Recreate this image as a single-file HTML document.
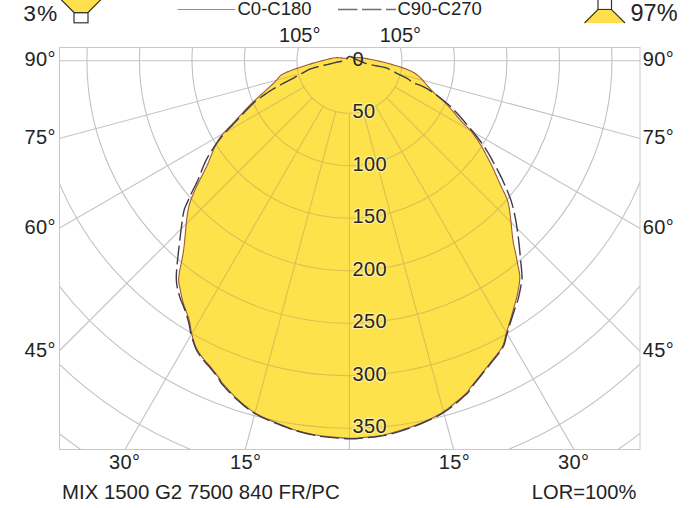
<!DOCTYPE html>
<html><head><meta charset="utf-8"><style>
html,body{margin:0;padding:0;background:#fff;}
svg{display:block;}
text{font-family:"Liberation Sans",Arial,sans-serif;fill:#232323;}
.rl{letter-spacing:0.4px;fill:#2a2614;stroke:#fbeea0;stroke-width:2.5px;paint-order:stroke;stroke-linejoin:round;}
</style></head><body>
<svg width="700" height="508" viewBox="0 0 700 508">
<defs>
<clipPath id="fr"><rect x="59.5" y="47.5" width="580.5" height="402.0"/></clipPath>
<clipPath id="fillc"><path d="M349.30,56.60 L350.10,56.62 L350.96,56.76 L351.88,56.97 L352.86,57.21 L353.90,57.44 L355.00,57.60 L356.08,57.67 L357.13,57.67 L358.24,57.65 L359.50,57.67 L361.03,57.77 L362.90,58.00 L365.22,58.38 L367.92,58.87 L370.88,59.44 L373.96,60.07 L377.04,60.73 L380.00,61.40 L382.89,62.09 L385.82,62.83 L388.76,63.59 L391.64,64.39 L394.44,65.19 L397.10,66.00 L399.65,66.81 L402.12,67.62 L404.50,68.44 L406.77,69.29 L408.91,70.17 L410.90,71.10 L412.65,71.99 L414.16,72.84 L415.54,73.71 L416.90,74.71 L418.35,75.91 L420.00,77.40 L421.83,79.25 L423.75,81.40 L425.76,83.76 L427.85,86.22 L430.03,88.70 L432.30,91.10 L434.70,93.41 L437.25,95.71 L439.89,98.02 L442.55,100.38 L445.17,102.79 L447.70,105.30 L450.19,108.01 L452.69,110.91 L455.16,113.89 L457.54,116.79 L459.77,119.47 L461.80,121.80 L463.57,123.67 L465.12,125.17 L466.53,126.46 L467.86,127.69 L469.19,129.01 L470.60,130.60 L472.10,132.46 L473.63,134.47 L475.16,136.58 L476.67,138.73 L478.13,140.89 L479.50,143.00 L480.78,145.05 L481.97,147.07 L483.11,149.09 L484.23,151.13 L485.35,153.23 L486.50,155.40 L487.68,157.64 L488.86,159.94 L490.04,162.28 L491.23,164.67 L492.42,167.11 L493.60,169.60 L494.78,172.15 L495.97,174.77 L497.15,177.44 L498.33,180.14 L499.52,182.83 L500.70,185.50 L501.93,188.13 L503.22,190.72 L504.51,193.32 L505.74,195.94 L506.86,198.63 L507.80,201.40 L508.53,204.25 L509.10,207.15 L509.56,210.11 L509.94,213.13 L510.31,216.23 L510.70,219.40 L511.10,222.76 L511.46,226.33 L511.81,229.96 L512.15,233.54 L512.51,236.93 L512.90,240.00 L513.34,242.73 L513.81,245.21 L514.31,247.50 L514.80,249.66 L515.27,251.74 L515.70,253.80 L516.09,255.78 L516.46,257.62 L516.80,259.39 L517.13,261.13 L517.46,262.92 L517.80,264.80 L518.19,266.75 L518.62,268.73 L519.06,270.74 L519.43,272.81 L519.70,274.96 L519.80,277.20 L519.72,279.59 L519.49,282.11 L519.14,284.71 L518.73,287.33 L518.27,289.92 L517.80,292.40 L517.31,294.76 L516.78,297.05 L516.20,299.30 L515.59,301.55 L514.95,303.84 L514.30,306.20 L513.61,308.68 L512.88,311.25 L512.12,313.86 L511.36,316.46 L510.61,318.99 L509.90,321.40 L509.22,323.67 L508.56,325.84 L507.91,327.95 L507.27,330.02 L506.64,332.09 L506.00,334.20 L505.45,336.30 L505.01,338.37 L504.57,340.44 L504.03,342.55 L503.28,344.72 L502.20,347.00 L500.71,349.44 L498.89,352.01 L496.85,354.66 L494.72,357.30 L492.63,359.87 L490.70,362.30 L488.93,364.56 L487.21,366.72 L485.52,368.80 L483.86,370.85 L482.19,372.90 L480.50,375.00 L478.72,377.22 L476.87,379.54 L475.01,381.86 L473.22,384.10 L471.59,386.14 L470.20,387.90 L469.29,389.18 L468.84,390.02 L468.55,390.67 L468.10,391.39 L467.19,392.41 L465.50,394.00 L462.91,396.30 L459.64,399.14 L455.91,402.29 L451.92,405.52 L447.88,408.60 L444.00,411.30 L440.33,413.61 L436.71,415.71 L433.05,417.66 L429.23,419.51 L425.15,421.34 L420.70,423.20 L415.71,425.15 L410.22,427.15 L404.47,429.12 L398.69,430.97 L393.12,432.63 L388.00,434.00 L383.23,435.05 L378.61,435.84 L374.19,436.43 L370.05,436.87 L366.23,437.25 L362.80,437.60 L359.92,437.92 L357.57,438.15 L355.56,438.31 L353.66,438.39 L351.68,438.42 L349.40,438.40 L346.82,438.31 L344.09,438.14 L341.27,437.91 L338.43,437.65 L335.62,437.37 L332.90,437.10 L330.29,436.85 L327.76,436.61 L325.26,436.36 L322.75,436.07 L320.18,435.73 L317.50,435.30 L314.65,434.78 L311.65,434.17 L308.59,433.51 L305.57,432.81 L302.67,432.10 L300.00,431.40 L297.78,430.80 L295.97,430.31 L294.30,429.80 L292.46,429.17 L290.16,428.31 L287.10,427.10 L283.02,425.49 L278.10,423.54 L272.73,421.37 L267.26,419.06 L262.10,416.70 L257.60,414.40 L253.80,412.14 L250.39,409.84 L247.27,407.51 L244.35,405.12 L241.52,402.69 L238.70,400.20 L235.80,397.53 L232.90,394.64 L230.09,391.71 L227.48,388.88 L225.18,386.33 L223.30,384.20 L221.99,382.64 L221.19,381.54 L220.71,380.72 L220.32,379.97 L219.82,379.09 L219.00,377.90 L217.83,376.34 L216.49,374.57 L215.03,372.67 L213.53,370.74 L212.06,368.89 L210.70,367.20 L209.45,365.72 L208.24,364.37 L207.07,363.10 L205.92,361.83 L204.77,360.48 L203.60,359.00 L202.39,357.40 L201.14,355.74 L199.90,354.02 L198.69,352.21 L197.54,350.31 L196.50,348.30 L195.55,346.12 L194.66,343.78 L193.84,341.34 L193.09,338.89 L192.41,336.48 L191.80,334.20 L191.30,332.03 L190.91,329.91 L190.60,327.84 L190.31,325.83 L189.99,323.88 L189.60,322.00 L189.14,320.19 L188.64,318.47 L188.12,316.80 L187.58,315.18 L187.04,313.58 L186.50,312.00 L185.96,310.49 L185.40,309.07 L184.84,307.69 L184.28,306.26 L183.73,304.72 L183.20,303.00 L182.68,301.06 L182.15,298.96 L181.64,296.75 L181.15,294.48 L180.70,292.21 L180.30,290.00 L179.90,287.99 L179.46,286.18 L179.07,284.36 L178.78,282.36 L178.67,279.97 L178.80,277.00 L179.25,273.39 L179.99,269.26 L180.91,264.76 L181.89,259.99 L182.82,255.10 L183.60,250.20 L184.23,245.04 L184.79,239.46 L185.31,233.76 L185.80,228.20 L186.29,223.09 L186.80,218.70 L187.29,215.17 L187.72,212.30 L188.16,209.87 L188.63,207.66 L189.20,205.44 L189.90,203.00 L190.71,200.44 L191.59,197.97 L192.56,195.49 L193.63,192.93 L194.84,190.19 L196.20,187.20 L197.76,183.93 L199.51,180.44 L201.40,176.79 L203.35,173.00 L205.31,169.12 L207.20,165.20 L208.99,161.10 L210.71,156.77 L212.44,152.35 L214.23,147.99 L216.17,143.82 L218.30,140.00 L220.67,136.59 L223.23,133.48 L225.93,130.57 L228.71,127.76 L231.52,124.93 L234.30,122.00 L237.11,118.91 L240.00,115.73 L242.91,112.54 L245.80,109.42 L248.62,106.45 L251.30,103.70 L253.88,101.18 L256.42,98.82 L258.88,96.61 L261.23,94.53 L263.44,92.56 L265.50,90.70 L267.38,88.96 L269.12,87.37 L270.72,85.89 L272.20,84.51 L273.59,83.18 L274.90,81.90 L276.06,80.66 L277.04,79.48 L277.92,78.36 L278.79,77.31 L279.72,76.32 L280.80,75.40 L282.00,74.57 L283.26,73.83 L284.58,73.15 L285.99,72.51 L287.49,71.87 L289.10,71.20 L290.90,70.50 L292.87,69.79 L294.95,69.08 L297.04,68.38 L299.05,67.72 L300.90,67.10 L302.56,66.54 L304.10,66.01 L305.56,65.52 L307.00,65.05 L308.46,64.58 L310.00,64.10 L311.55,63.62 L313.07,63.15 L314.61,62.68 L316.23,62.21 L318.01,61.72 L320.00,61.20 L322.31,60.60 L324.92,59.93 L327.68,59.23 L330.44,58.59 L333.07,58.05 L335.40,57.70 L337.49,57.59 L339.46,57.68 L341.29,57.89 L342.95,58.12 L344.43,58.29 L345.70,58.30 L346.66,58.12 L347.32,57.80 L347.79,57.42 L348.19,57.05 L348.66,56.75 Z"/></clipPath>
</defs>
<rect width="700" height="508" fill="#fff"/>
<g clip-path="url(#fr)">
<g fill="none" stroke="#c2c2c2" stroke-width="1.1"><circle cx="349.45" cy="60.7" r="52.5"/><circle cx="349.45" cy="60.7" r="105.0"/><circle cx="349.45" cy="60.7" r="157.5"/><circle cx="349.45" cy="60.7" r="210.0"/><circle cx="349.45" cy="60.7" r="262.5"/><circle cx="349.45" cy="60.7" r="315.0"/><circle cx="349.45" cy="60.7" r="367.5"/><circle cx="349.45" cy="60.7" r="420.0"/><circle cx="349.45" cy="60.7" r="472.5"/><line x1="349.45" y1="8.20" x2="349.45" y2="-639.30"/><line x1="335.86" y1="9.99" x2="168.28" y2="-615.45"/><line x1="323.20" y1="15.23" x2="-0.55" y2="-545.52"/><line x1="312.33" y1="23.58" x2="-145.52" y2="-434.27"/><line x1="303.98" y1="34.45" x2="-256.77" y2="-289.30"/><line x1="298.74" y1="47.11" x2="-326.70" y2="-120.47"/><line x1="296.95" y1="60.70" x2="-350.55" y2="60.70"/><line x1="298.74" y1="74.29" x2="-326.70" y2="241.87"/><line x1="303.98" y1="86.95" x2="-256.77" y2="410.70"/><line x1="312.33" y1="97.82" x2="-145.52" y2="555.67"/><line x1="323.20" y1="106.17" x2="-0.55" y2="666.92"/><line x1="335.86" y1="111.41" x2="168.28" y2="736.85"/><line x1="349.45" y1="113.20" x2="349.45" y2="760.70"/><line x1="363.04" y1="111.41" x2="530.62" y2="736.85"/><line x1="375.70" y1="106.17" x2="699.45" y2="666.92"/><line x1="386.57" y1="97.82" x2="844.42" y2="555.67"/><line x1="394.92" y1="86.95" x2="955.67" y2="410.70"/><line x1="400.16" y1="74.29" x2="1025.60" y2="241.87"/><line x1="401.95" y1="60.70" x2="1049.45" y2="60.70"/><line x1="400.16" y1="47.11" x2="1025.60" y2="-120.47"/><line x1="394.92" y1="34.45" x2="955.67" y2="-289.30"/><line x1="386.57" y1="23.58" x2="844.42" y2="-434.27"/><line x1="375.70" y1="15.23" x2="699.45" y2="-545.52"/><line x1="363.04" y1="9.99" x2="530.62" y2="-615.45"/><line x1="349.45" y1="8.20" x2="349.45" y2="-639.30"/></g>
<path d="M349.30,56.60 L350.10,56.62 L350.96,56.76 L351.88,56.97 L352.86,57.21 L353.90,57.44 L355.00,57.60 L356.08,57.67 L357.13,57.67 L358.24,57.65 L359.50,57.67 L361.03,57.77 L362.90,58.00 L365.22,58.38 L367.92,58.87 L370.88,59.44 L373.96,60.07 L377.04,60.73 L380.00,61.40 L382.89,62.09 L385.82,62.83 L388.76,63.59 L391.64,64.39 L394.44,65.19 L397.10,66.00 L399.65,66.81 L402.12,67.62 L404.50,68.44 L406.77,69.29 L408.91,70.17 L410.90,71.10 L412.65,71.99 L414.16,72.84 L415.54,73.71 L416.90,74.71 L418.35,75.91 L420.00,77.40 L421.83,79.25 L423.75,81.40 L425.76,83.76 L427.85,86.22 L430.03,88.70 L432.30,91.10 L434.70,93.41 L437.25,95.71 L439.89,98.02 L442.55,100.38 L445.17,102.79 L447.70,105.30 L450.19,108.01 L452.69,110.91 L455.16,113.89 L457.54,116.79 L459.77,119.47 L461.80,121.80 L463.57,123.67 L465.12,125.17 L466.53,126.46 L467.86,127.69 L469.19,129.01 L470.60,130.60 L472.10,132.46 L473.63,134.47 L475.16,136.58 L476.67,138.73 L478.13,140.89 L479.50,143.00 L480.78,145.05 L481.97,147.07 L483.11,149.09 L484.23,151.13 L485.35,153.23 L486.50,155.40 L487.68,157.64 L488.86,159.94 L490.04,162.28 L491.23,164.67 L492.42,167.11 L493.60,169.60 L494.78,172.15 L495.97,174.77 L497.15,177.44 L498.33,180.14 L499.52,182.83 L500.70,185.50 L501.93,188.13 L503.22,190.72 L504.51,193.32 L505.74,195.94 L506.86,198.63 L507.80,201.40 L508.53,204.25 L509.10,207.15 L509.56,210.11 L509.94,213.13 L510.31,216.23 L510.70,219.40 L511.10,222.76 L511.46,226.33 L511.81,229.96 L512.15,233.54 L512.51,236.93 L512.90,240.00 L513.34,242.73 L513.81,245.21 L514.31,247.50 L514.80,249.66 L515.27,251.74 L515.70,253.80 L516.09,255.78 L516.46,257.62 L516.80,259.39 L517.13,261.13 L517.46,262.92 L517.80,264.80 L518.19,266.75 L518.62,268.73 L519.06,270.74 L519.43,272.81 L519.70,274.96 L519.80,277.20 L519.72,279.59 L519.49,282.11 L519.14,284.71 L518.73,287.33 L518.27,289.92 L517.80,292.40 L517.31,294.76 L516.78,297.05 L516.20,299.30 L515.59,301.55 L514.95,303.84 L514.30,306.20 L513.61,308.68 L512.88,311.25 L512.12,313.86 L511.36,316.46 L510.61,318.99 L509.90,321.40 L509.22,323.67 L508.56,325.84 L507.91,327.95 L507.27,330.02 L506.64,332.09 L506.00,334.20 L505.45,336.30 L505.01,338.37 L504.57,340.44 L504.03,342.55 L503.28,344.72 L502.20,347.00 L500.71,349.44 L498.89,352.01 L496.85,354.66 L494.72,357.30 L492.63,359.87 L490.70,362.30 L488.93,364.56 L487.21,366.72 L485.52,368.80 L483.86,370.85 L482.19,372.90 L480.50,375.00 L478.72,377.22 L476.87,379.54 L475.01,381.86 L473.22,384.10 L471.59,386.14 L470.20,387.90 L469.29,389.18 L468.84,390.02 L468.55,390.67 L468.10,391.39 L467.19,392.41 L465.50,394.00 L462.91,396.30 L459.64,399.14 L455.91,402.29 L451.92,405.52 L447.88,408.60 L444.00,411.30 L440.33,413.61 L436.71,415.71 L433.05,417.66 L429.23,419.51 L425.15,421.34 L420.70,423.20 L415.71,425.15 L410.22,427.15 L404.47,429.12 L398.69,430.97 L393.12,432.63 L388.00,434.00 L383.23,435.05 L378.61,435.84 L374.19,436.43 L370.05,436.87 L366.23,437.25 L362.80,437.60 L359.92,437.92 L357.57,438.15 L355.56,438.31 L353.66,438.39 L351.68,438.42 L349.40,438.40 L346.82,438.31 L344.09,438.14 L341.27,437.91 L338.43,437.65 L335.62,437.37 L332.90,437.10 L330.29,436.85 L327.76,436.61 L325.26,436.36 L322.75,436.07 L320.18,435.73 L317.50,435.30 L314.65,434.78 L311.65,434.17 L308.59,433.51 L305.57,432.81 L302.67,432.10 L300.00,431.40 L297.78,430.80 L295.97,430.31 L294.30,429.80 L292.46,429.17 L290.16,428.31 L287.10,427.10 L283.02,425.49 L278.10,423.54 L272.73,421.37 L267.26,419.06 L262.10,416.70 L257.60,414.40 L253.80,412.14 L250.39,409.84 L247.27,407.51 L244.35,405.12 L241.52,402.69 L238.70,400.20 L235.80,397.53 L232.90,394.64 L230.09,391.71 L227.48,388.88 L225.18,386.33 L223.30,384.20 L221.99,382.64 L221.19,381.54 L220.71,380.72 L220.32,379.97 L219.82,379.09 L219.00,377.90 L217.83,376.34 L216.49,374.57 L215.03,372.67 L213.53,370.74 L212.06,368.89 L210.70,367.20 L209.45,365.72 L208.24,364.37 L207.07,363.10 L205.92,361.83 L204.77,360.48 L203.60,359.00 L202.39,357.40 L201.14,355.74 L199.90,354.02 L198.69,352.21 L197.54,350.31 L196.50,348.30 L195.55,346.12 L194.66,343.78 L193.84,341.34 L193.09,338.89 L192.41,336.48 L191.80,334.20 L191.30,332.03 L190.91,329.91 L190.60,327.84 L190.31,325.83 L189.99,323.88 L189.60,322.00 L189.14,320.19 L188.64,318.47 L188.12,316.80 L187.58,315.18 L187.04,313.58 L186.50,312.00 L185.96,310.49 L185.40,309.07 L184.84,307.69 L184.28,306.26 L183.73,304.72 L183.20,303.00 L182.68,301.06 L182.15,298.96 L181.64,296.75 L181.15,294.48 L180.70,292.21 L180.30,290.00 L179.90,287.99 L179.46,286.18 L179.07,284.36 L178.78,282.36 L178.67,279.97 L178.80,277.00 L179.25,273.39 L179.99,269.26 L180.91,264.76 L181.89,259.99 L182.82,255.10 L183.60,250.20 L184.23,245.04 L184.79,239.46 L185.31,233.76 L185.80,228.20 L186.29,223.09 L186.80,218.70 L187.29,215.17 L187.72,212.30 L188.16,209.87 L188.63,207.66 L189.20,205.44 L189.90,203.00 L190.71,200.44 L191.59,197.97 L192.56,195.49 L193.63,192.93 L194.84,190.19 L196.20,187.20 L197.76,183.93 L199.51,180.44 L201.40,176.79 L203.35,173.00 L205.31,169.12 L207.20,165.20 L208.99,161.10 L210.71,156.77 L212.44,152.35 L214.23,147.99 L216.17,143.82 L218.30,140.00 L220.67,136.59 L223.23,133.48 L225.93,130.57 L228.71,127.76 L231.52,124.93 L234.30,122.00 L237.11,118.91 L240.00,115.73 L242.91,112.54 L245.80,109.42 L248.62,106.45 L251.30,103.70 L253.88,101.18 L256.42,98.82 L258.88,96.61 L261.23,94.53 L263.44,92.56 L265.50,90.70 L267.38,88.96 L269.12,87.37 L270.72,85.89 L272.20,84.51 L273.59,83.18 L274.90,81.90 L276.06,80.66 L277.04,79.48 L277.92,78.36 L278.79,77.31 L279.72,76.32 L280.80,75.40 L282.00,74.57 L283.26,73.83 L284.58,73.15 L285.99,72.51 L287.49,71.87 L289.10,71.20 L290.90,70.50 L292.87,69.79 L294.95,69.08 L297.04,68.38 L299.05,67.72 L300.90,67.10 L302.56,66.54 L304.10,66.01 L305.56,65.52 L307.00,65.05 L308.46,64.58 L310.00,64.10 L311.55,63.62 L313.07,63.15 L314.61,62.68 L316.23,62.21 L318.01,61.72 L320.00,61.20 L322.31,60.60 L324.92,59.93 L327.68,59.23 L330.44,58.59 L333.07,58.05 L335.40,57.70 L337.49,57.59 L339.46,57.68 L341.29,57.89 L342.95,58.12 L344.43,58.29 L345.70,58.30 L346.66,58.12 L347.32,57.80 L347.79,57.42 L348.19,57.05 L348.66,56.75 Z" fill="#fee24c"/>
<g clip-path="url(#fillc)"><g fill="none" stroke="#d9c052" stroke-width="1.1"><circle cx="349.45" cy="60.7" r="52.5"/><circle cx="349.45" cy="60.7" r="105.0"/><circle cx="349.45" cy="60.7" r="157.5"/><circle cx="349.45" cy="60.7" r="210.0"/><circle cx="349.45" cy="60.7" r="262.5"/><circle cx="349.45" cy="60.7" r="315.0"/><circle cx="349.45" cy="60.7" r="367.5"/><circle cx="349.45" cy="60.7" r="420.0"/><circle cx="349.45" cy="60.7" r="472.5"/><line x1="349.45" y1="8.20" x2="349.45" y2="-639.30"/><line x1="335.86" y1="9.99" x2="168.28" y2="-615.45"/><line x1="323.20" y1="15.23" x2="-0.55" y2="-545.52"/><line x1="312.33" y1="23.58" x2="-145.52" y2="-434.27"/><line x1="303.98" y1="34.45" x2="-256.77" y2="-289.30"/><line x1="298.74" y1="47.11" x2="-326.70" y2="-120.47"/><line x1="296.95" y1="60.70" x2="-350.55" y2="60.70"/><line x1="298.74" y1="74.29" x2="-326.70" y2="241.87"/><line x1="303.98" y1="86.95" x2="-256.77" y2="410.70"/><line x1="312.33" y1="97.82" x2="-145.52" y2="555.67"/><line x1="323.20" y1="106.17" x2="-0.55" y2="666.92"/><line x1="335.86" y1="111.41" x2="168.28" y2="736.85"/><line x1="349.45" y1="113.20" x2="349.45" y2="760.70"/><line x1="363.04" y1="111.41" x2="530.62" y2="736.85"/><line x1="375.70" y1="106.17" x2="699.45" y2="666.92"/><line x1="386.57" y1="97.82" x2="844.42" y2="555.67"/><line x1="394.92" y1="86.95" x2="955.67" y2="410.70"/><line x1="400.16" y1="74.29" x2="1025.60" y2="241.87"/><line x1="401.95" y1="60.70" x2="1049.45" y2="60.70"/><line x1="400.16" y1="47.11" x2="1025.60" y2="-120.47"/><line x1="394.92" y1="34.45" x2="955.67" y2="-289.30"/><line x1="386.57" y1="23.58" x2="844.42" y2="-434.27"/><line x1="375.70" y1="15.23" x2="699.45" y2="-545.52"/><line x1="363.04" y1="9.99" x2="530.62" y2="-615.45"/><line x1="349.45" y1="8.20" x2="349.45" y2="-639.30"/></g></g>
<path d="M349.30,56.60 L350.10,56.62 L350.96,56.76 L351.88,56.97 L352.86,57.21 L353.90,57.44 L355.00,57.60 L356.08,57.67 L357.13,57.67 L358.24,57.65 L359.50,57.67 L361.03,57.77 L362.90,58.00 L365.22,58.38 L367.92,58.87 L370.88,59.44 L373.96,60.07 L377.04,60.73 L380.00,61.40 L382.89,62.09 L385.82,62.83 L388.76,63.59 L391.64,64.39 L394.44,65.19 L397.10,66.00 L399.65,66.81 L402.12,67.62 L404.50,68.44 L406.77,69.29 L408.91,70.17 L410.90,71.10 L412.65,71.99 L414.16,72.84 L415.54,73.71 L416.90,74.71 L418.35,75.91 L420.00,77.40 L421.83,79.25 L423.75,81.40 L425.76,83.76 L427.85,86.22 L430.03,88.70 L432.30,91.10 L434.70,93.41 L437.25,95.71 L439.89,98.02 L442.55,100.38 L445.17,102.79 L447.70,105.30 L450.19,108.01 L452.69,110.91 L455.16,113.89 L457.54,116.79 L459.77,119.47 L461.80,121.80 L463.57,123.67 L465.12,125.17 L466.53,126.46 L467.86,127.69 L469.19,129.01 L470.60,130.60 L472.10,132.46 L473.63,134.47 L475.16,136.58 L476.67,138.73 L478.13,140.89 L479.50,143.00 L480.78,145.05 L481.97,147.07 L483.11,149.09 L484.23,151.13 L485.35,153.23 L486.50,155.40 L487.68,157.64 L488.86,159.94 L490.04,162.28 L491.23,164.67 L492.42,167.11 L493.60,169.60 L494.78,172.15 L495.97,174.77 L497.15,177.44 L498.33,180.14 L499.52,182.83 L500.70,185.50 L501.93,188.13 L503.22,190.72 L504.51,193.32 L505.74,195.94 L506.86,198.63 L507.80,201.40 L508.53,204.25 L509.10,207.15 L509.56,210.11 L509.94,213.13 L510.31,216.23 L510.70,219.40 L511.10,222.76 L511.46,226.33 L511.81,229.96 L512.15,233.54 L512.51,236.93 L512.90,240.00 L513.34,242.73 L513.81,245.21 L514.31,247.50 L514.80,249.66 L515.27,251.74 L515.70,253.80 L516.09,255.78 L516.46,257.62 L516.80,259.39 L517.13,261.13 L517.46,262.92 L517.80,264.80 L518.19,266.75 L518.62,268.73 L519.06,270.74 L519.43,272.81 L519.70,274.96 L519.80,277.20 L519.72,279.59 L519.49,282.11 L519.14,284.71 L518.73,287.33 L518.27,289.92 L517.80,292.40 L517.31,294.76 L516.78,297.05 L516.20,299.30 L515.59,301.55 L514.95,303.84 L514.30,306.20 L513.61,308.68 L512.88,311.25 L512.12,313.86 L511.36,316.46 L510.61,318.99 L509.90,321.40 L509.22,323.67 L508.56,325.84 L507.91,327.95 L507.27,330.02 L506.64,332.09 L506.00,334.20 L505.45,336.30 L505.01,338.37 L504.57,340.44 L504.03,342.55 L503.28,344.72 L502.20,347.00 L500.71,349.44 L498.89,352.01 L496.85,354.66 L494.72,357.30 L492.63,359.87 L490.70,362.30 L488.93,364.56 L487.21,366.72 L485.52,368.80 L483.86,370.85 L482.19,372.90 L480.50,375.00 L478.72,377.22 L476.87,379.54 L475.01,381.86 L473.22,384.10 L471.59,386.14 L470.20,387.90 L469.29,389.18 L468.84,390.02 L468.55,390.67 L468.10,391.39 L467.19,392.41 L465.50,394.00 L462.91,396.30 L459.64,399.14 L455.91,402.29 L451.92,405.52 L447.88,408.60 L444.00,411.30 L440.33,413.61 L436.71,415.71 L433.05,417.66 L429.23,419.51 L425.15,421.34 L420.70,423.20 L415.71,425.15 L410.22,427.15 L404.47,429.12 L398.69,430.97 L393.12,432.63 L388.00,434.00 L383.23,435.05 L378.61,435.84 L374.19,436.43 L370.05,436.87 L366.23,437.25 L362.80,437.60 L359.92,437.92 L357.57,438.15 L355.56,438.31 L353.66,438.39 L351.68,438.42 L349.40,438.40 L346.82,438.31 L344.09,438.14 L341.27,437.91 L338.43,437.65 L335.62,437.37 L332.90,437.10 L330.29,436.85 L327.76,436.61 L325.26,436.36 L322.75,436.07 L320.18,435.73 L317.50,435.30 L314.65,434.78 L311.65,434.17 L308.59,433.51 L305.57,432.81 L302.67,432.10 L300.00,431.40 L297.78,430.80 L295.97,430.31 L294.30,429.80 L292.46,429.17 L290.16,428.31 L287.10,427.10 L283.02,425.49 L278.10,423.54 L272.73,421.37 L267.26,419.06 L262.10,416.70 L257.60,414.40 L253.80,412.14 L250.39,409.84 L247.27,407.51 L244.35,405.12 L241.52,402.69 L238.70,400.20 L235.80,397.53 L232.90,394.64 L230.09,391.71 L227.48,388.88 L225.18,386.33 L223.30,384.20 L221.99,382.64 L221.19,381.54 L220.71,380.72 L220.32,379.97 L219.82,379.09 L219.00,377.90 L217.83,376.34 L216.49,374.57 L215.03,372.67 L213.53,370.74 L212.06,368.89 L210.70,367.20 L209.45,365.72 L208.24,364.37 L207.07,363.10 L205.92,361.83 L204.77,360.48 L203.60,359.00 L202.39,357.40 L201.14,355.74 L199.90,354.02 L198.69,352.21 L197.54,350.31 L196.50,348.30 L195.55,346.12 L194.66,343.78 L193.84,341.34 L193.09,338.89 L192.41,336.48 L191.80,334.20 L191.30,332.03 L190.91,329.91 L190.60,327.84 L190.31,325.83 L189.99,323.88 L189.60,322.00 L189.14,320.19 L188.64,318.47 L188.12,316.80 L187.58,315.18 L187.04,313.58 L186.50,312.00 L185.96,310.49 L185.40,309.07 L184.84,307.69 L184.28,306.26 L183.73,304.72 L183.20,303.00 L182.68,301.06 L182.15,298.96 L181.64,296.75 L181.15,294.48 L180.70,292.21 L180.30,290.00 L179.90,287.99 L179.46,286.18 L179.07,284.36 L178.78,282.36 L178.67,279.97 L178.80,277.00 L179.25,273.39 L179.99,269.26 L180.91,264.76 L181.89,259.99 L182.82,255.10 L183.60,250.20 L184.23,245.04 L184.79,239.46 L185.31,233.76 L185.80,228.20 L186.29,223.09 L186.80,218.70 L187.29,215.17 L187.72,212.30 L188.16,209.87 L188.63,207.66 L189.20,205.44 L189.90,203.00 L190.71,200.44 L191.59,197.97 L192.56,195.49 L193.63,192.93 L194.84,190.19 L196.20,187.20 L197.76,183.93 L199.51,180.44 L201.40,176.79 L203.35,173.00 L205.31,169.12 L207.20,165.20 L208.99,161.10 L210.71,156.77 L212.44,152.35 L214.23,147.99 L216.17,143.82 L218.30,140.00 L220.67,136.59 L223.23,133.48 L225.93,130.57 L228.71,127.76 L231.52,124.93 L234.30,122.00 L237.11,118.91 L240.00,115.73 L242.91,112.54 L245.80,109.42 L248.62,106.45 L251.30,103.70 L253.88,101.18 L256.42,98.82 L258.88,96.61 L261.23,94.53 L263.44,92.56 L265.50,90.70 L267.38,88.96 L269.12,87.37 L270.72,85.89 L272.20,84.51 L273.59,83.18 L274.90,81.90 L276.06,80.66 L277.04,79.48 L277.92,78.36 L278.79,77.31 L279.72,76.32 L280.80,75.40 L282.00,74.57 L283.26,73.83 L284.58,73.15 L285.99,72.51 L287.49,71.87 L289.10,71.20 L290.90,70.50 L292.87,69.79 L294.95,69.08 L297.04,68.38 L299.05,67.72 L300.90,67.10 L302.56,66.54 L304.10,66.01 L305.56,65.52 L307.00,65.05 L308.46,64.58 L310.00,64.10 L311.55,63.62 L313.07,63.15 L314.61,62.68 L316.23,62.21 L318.01,61.72 L320.00,61.20 L322.31,60.60 L324.92,59.93 L327.68,59.23 L330.44,58.59 L333.07,58.05 L335.40,57.70 L337.49,57.59 L339.46,57.68 L341.29,57.89 L342.95,58.12 L344.43,58.29 L345.70,58.30 L346.66,58.12 L347.32,57.80 L347.79,57.42 L348.19,57.05 L348.66,56.75 Z" fill="none" stroke="#9c5a3c" stroke-width="1.1"/>
<path d="M349.30,56.40 L350.15,56.42 L351.05,56.70 L351.98,57.16 L352.95,57.72 L353.96,58.29 L355.00,58.80 L356.10,59.27 L357.25,59.77 L358.44,60.29 L359.65,60.81 L360.84,61.32 L362.00,61.80 L363.00,62.24 L363.84,62.64 L364.67,63.02 L365.64,63.42 L366.90,63.84 L368.60,64.30 L370.97,64.82 L373.94,65.39 L377.21,65.97 L380.46,66.57 L383.39,67.15 L385.70,67.70 L387.19,68.15 L388.06,68.51 L388.62,68.86 L389.16,69.27 L389.99,69.83 L391.40,70.60 L393.59,71.68 L396.36,73.04 L399.41,74.53 L402.46,76.04 L405.22,77.44 L407.40,78.60 L408.84,79.47 L409.73,80.16 L410.32,80.72 L410.90,81.27 L411.70,81.86 L413.00,82.60 L414.77,83.38 L416.80,84.10 L419.06,84.89 L421.53,85.83 L424.18,87.03 L427.00,88.60 L430.12,90.62 L433.60,93.01 L437.27,95.67 L440.95,98.47 L444.48,101.29 L447.70,104.00 L450.51,106.53 L453.03,108.96 L455.39,111.41 L457.75,113.99 L460.24,116.82 L463.00,120.00 L466.15,123.67 L469.60,127.75 L473.18,132.07 L476.72,136.47 L480.05,140.77 L483.00,144.80 L485.55,148.58 L487.83,152.26 L489.90,155.84 L491.81,159.33 L493.63,162.71 L495.40,166.00 L497.09,169.15 L498.66,172.16 L500.13,175.07 L501.53,177.93 L502.87,180.79 L504.20,183.70 L505.51,186.65 L506.80,189.59 L508.03,192.53 L509.20,195.48 L510.30,198.43 L511.30,201.40 L512.19,204.36 L512.99,207.32 L513.71,210.28 L514.37,213.27 L515.00,216.30 L515.60,219.40 L516.17,222.57 L516.70,225.81 L517.19,229.09 L517.65,232.40 L518.08,235.71 L518.50,239.00 L518.89,242.32 L519.26,245.70 L519.59,249.09 L519.91,252.42 L520.21,255.64 L520.50,258.70 L520.79,261.66 L521.07,264.56 L521.34,267.36 L521.58,269.99 L521.77,272.39 L521.90,274.50 L521.98,276.13 L522.03,277.30 L522.04,278.24 L521.98,279.19 L521.84,280.36 L521.60,282.00 L521.23,284.25 L520.73,286.96 L520.15,289.90 L519.54,292.85 L518.94,295.59 L518.40,297.90 L517.95,299.64 L517.55,300.95 L517.17,302.06 L516.76,303.16 L516.28,304.47 L515.70,306.20 L514.97,308.44 L514.13,311.03 L513.22,313.84 L512.29,316.70 L511.40,319.47 L510.60,322.00 L509.89,324.27 L509.24,326.39 L508.63,328.43 L508.03,330.42 L507.43,332.43 L506.80,334.50 L506.23,336.61 L505.76,338.71 L505.29,340.82 L504.70,342.98 L503.91,345.19 L502.80,347.50 L501.29,349.95 L499.44,352.53 L497.39,355.17 L495.24,357.81 L493.14,360.37 L491.20,362.80 L489.42,365.06 L487.70,367.22 L486.02,369.30 L484.36,371.35 L482.69,373.40 L481.00,375.50 L479.22,377.72 L477.37,380.04 L475.51,382.36 L473.72,384.60 L472.09,386.64 L470.70,388.40 L469.79,389.68 L469.34,390.51 L469.05,391.16 L468.60,391.87 L467.69,392.90 L466.00,394.50 L463.44,396.81 L460.23,399.67 L456.55,402.85 L452.59,406.11 L448.51,409.24 L444.50,412.00 L440.54,414.40 L436.49,416.63 L432.32,418.71 L428.03,420.70 L423.60,422.61 L419.00,424.50 L414.12,426.40 L408.96,428.29 L403.65,430.11 L398.34,431.81 L393.18,433.33 L388.30,434.60 L383.61,435.60 L378.97,436.36 L374.47,436.94 L370.21,437.39 L366.29,437.76 L362.80,438.10 L359.90,438.40 L357.55,438.61 L355.54,438.74 L353.65,438.81 L351.67,438.83 L349.40,438.80 L346.82,438.72 L344.09,438.56 L341.27,438.36 L338.43,438.11 L335.62,437.86 L332.90,437.60 L330.29,437.36 L327.76,437.12 L325.26,436.87 L322.75,436.58 L320.18,436.23 L317.50,435.80 L314.65,435.28 L311.65,434.67 L308.59,434.01 L305.57,433.31 L302.67,432.60 L300.00,431.90 L297.78,431.30 L295.98,430.80 L294.31,430.29 L292.47,429.66 L290.16,428.80 L287.10,427.60 L283.01,426.00 L278.08,424.07 L272.68,421.91 L267.20,419.61 L262.01,417.28 L257.50,415.00 L253.68,412.77 L250.26,410.51 L247.13,408.21 L244.20,405.87 L241.35,403.47 L238.50,401.00 L235.56,398.34 L232.60,395.46 L229.72,392.53 L227.06,389.70 L224.71,387.14 L222.80,385.00 L221.48,383.42 L220.70,382.29 L220.24,381.42 L219.89,380.63 L219.41,379.72 L218.60,378.50 L217.43,376.93 L216.07,375.15 L214.59,373.26 L213.07,371.34 L211.58,369.49 L210.20,367.80 L208.93,366.32 L207.70,364.97 L206.51,363.69 L205.34,362.42 L204.17,361.08 L203.00,359.60 L201.80,358.01 L200.57,356.37 L199.34,354.66 L198.16,352.87 L197.03,350.99 L196.00,349.00 L195.06,346.85 L194.19,344.55 L193.38,342.15 L192.63,339.72 L191.94,337.31 L191.30,335.00 L190.75,332.78 L190.30,330.59 L189.91,328.44 L189.53,326.30 L189.11,324.16 L188.60,322.00 L188.00,319.82 L187.36,317.63 L186.67,315.44 L185.96,313.26 L185.23,311.11 L184.50,309.00 L183.73,306.97 L182.92,305.00 L182.09,303.06 L181.28,301.11 L180.50,299.10 L179.80,297.00 L179.14,294.79 L178.50,292.52 L177.89,290.19 L177.36,287.81 L176.92,285.41 L176.60,283.00 L176.40,280.77 L176.29,278.76 L176.27,276.72 L176.35,274.41 L176.52,271.58 L176.80,268.00 L177.22,263.36 L177.80,257.78 L178.47,251.69 L179.18,245.51 L179.88,239.64 L180.50,234.50 L181.05,230.01 L181.56,225.82 L182.06,221.95 L182.56,218.41 L183.07,215.22 L183.60,212.40 L184.14,210.10 L184.69,208.35 L185.24,206.95 L185.81,205.70 L186.43,204.42 L187.10,202.90 L187.83,201.17 L188.60,199.39 L189.41,197.58 L190.26,195.73 L191.12,193.87 L192.00,192.00 L192.87,190.22 L193.74,188.53 L194.64,186.82 L195.58,184.99 L196.59,182.92 L197.70,180.50 L198.92,177.59 L200.23,174.26 L201.61,170.69 L203.05,167.07 L204.52,163.58 L206.00,160.40 L207.53,157.51 L209.11,154.76 L210.74,152.13 L212.36,149.63 L213.96,147.26 L215.50,145.00 L216.98,142.88 L218.43,140.91 L219.84,139.07 L221.24,137.32 L222.62,135.64 L224.00,134.00 L225.23,132.58 L226.28,131.43 L227.31,130.34 L228.50,129.13 L230.01,127.58 L232.00,125.50 L234.71,122.62 L238.06,119.06 L241.72,115.16 L245.39,111.28 L248.75,107.77 L251.50,105.00 L253.53,103.05 L255.09,101.67 L256.33,100.66 L257.45,99.84 L258.61,99.02 L260.00,98.00 L261.59,96.81 L263.25,95.61 L264.96,94.41 L266.69,93.22 L268.45,92.04 L270.20,90.90 L271.97,89.78 L273.79,88.67 L275.61,87.58 L277.44,86.51 L279.24,85.48 L281.00,84.50 L282.64,83.62 L284.16,82.85 L285.66,82.11 L287.23,81.34 L288.98,80.46 L291.00,79.40 L293.48,78.05 L296.38,76.43 L299.46,74.71 L302.46,73.03 L305.16,71.55 L307.30,70.40 L308.76,69.65 L309.70,69.20 L310.33,68.93 L310.86,68.76 L311.48,68.58 L312.40,68.30 L313.63,67.92 L315.01,67.54 L316.48,67.14 L318.00,66.75 L319.53,66.37 L321.00,66.00 L322.45,65.65 L323.93,65.30 L325.41,64.96 L326.87,64.63 L328.27,64.31 L329.60,64.00 L330.82,63.70 L331.93,63.42 L333.00,63.14 L334.07,62.87 L335.18,62.59 L336.40,62.30 L337.78,62.02 L339.29,61.76 L340.86,61.49 L342.39,61.20 L343.79,60.84 L345.00,60.40 L345.95,59.78 L346.70,58.99 L347.33,58.13 L347.92,57.34 L348.55,56.72 Z" fill="none" stroke="#3c3a48" stroke-width="1.4" stroke-dasharray="19 5"/>
</g>
<rect x="59.5" y="47.5" width="580.5" height="402.0" fill="none" stroke="#c8c8c8" stroke-width="1"/>
<line x1="177.5" y1="9.5" x2="235" y2="9.5" stroke="#a8848c" stroke-width="1.2"/>
<line x1="338" y1="9.5" x2="396" y2="9.5" stroke="#6e6e7e" stroke-width="1.3" stroke-dasharray="19.5 4.5"/>
<!-- lamp icons -->
<polygon points="60,-1.5 102,-1.5 88,12.5 74,12.5" fill="#ffe04c" stroke="#3a3520" stroke-width="1.2" stroke-linejoin="round"/>
<rect x="74" y="12.8" width="14" height="10" fill="#fff" stroke="#333" stroke-width="1.2"/>
<rect x="598" y="-2" width="13.5" height="11.5" fill="#fff" stroke="#333" stroke-width="1.2"/>
<polygon points="598,9.5 611.5,9.5 625,23 584.5,23" fill="#ffe04c"/>
<polyline points="584.5,23 598,9.5 611.5,9.5 625,23" fill="none" stroke="#3a3520" stroke-width="1.2"/>
<text x="56.0" y="65.6" font-size="20" text-anchor="end" letter-spacing="0.4">90°</text><text x="642.7" y="65.6" font-size="20" text-anchor="start" letter-spacing="0.4">90°</text><text x="56.0" y="143.8" font-size="20" text-anchor="end" letter-spacing="0.4">75°</text><text x="642.7" y="143.8" font-size="20" text-anchor="start" letter-spacing="0.4">75°</text><text x="56.0" y="233.6" font-size="20" text-anchor="end" letter-spacing="0.4">60°</text><text x="642.7" y="233.6" font-size="20" text-anchor="start" letter-spacing="0.4">60°</text><text x="56.0" y="356.9" font-size="20" text-anchor="end" letter-spacing="0.4">45°</text><text x="642.7" y="356.9" font-size="20" text-anchor="start" letter-spacing="0.4">45°</text><text x="124.7" y="468.9" font-size="20" text-anchor="middle" letter-spacing="0.4">30°</text><text x="245.7" y="468.9" font-size="20" text-anchor="middle" letter-spacing="0.4">15°</text><text x="454.4" y="468.9" font-size="20" text-anchor="middle" letter-spacing="0.4">15°</text><text x="573.8000000000001" y="468.9" font-size="20" text-anchor="middle" letter-spacing="0.4">30°</text><text x="299.8" y="41.7" font-size="20" text-anchor="middle">105°</text><text x="400.4" y="41.7" font-size="20" text-anchor="middle">105°</text><text x="352.4" y="65.6" font-size="20" text-anchor="start" letter-spacing="0.4">0</text><text x="352.4" y="118.1" font-size="20" text-anchor="start" class="rl">50</text><text x="352.4" y="170.6" font-size="20" text-anchor="start" class="rl">100</text><text x="352.4" y="223.1" font-size="20" text-anchor="start" class="rl">150</text><text x="352.4" y="275.6" font-size="20" text-anchor="start" class="rl">200</text><text x="352.4" y="328.1" font-size="20" text-anchor="start" class="rl">250</text><text x="352.4" y="380.6" font-size="20" text-anchor="start" class="rl">300</text><text x="352.4" y="433.1" font-size="20" text-anchor="start" class="rl">350</text><text x="62" y="499.1" font-size="20.4" text-anchor="start">MIX 1500 G2 7500 840 FR/PC</text><text x="636.3" y="499.1" font-size="20.1" text-anchor="end">LOR=100%</text><text x="237.5" y="15" font-size="18.5" text-anchor="start">C0-C180</text><text x="397.5" y="15" font-size="18.5" text-anchor="start">C90-C270</text><text x="23.2" y="20.8" font-size="22.8" text-anchor="start" letter-spacing="1.2">3%</text><text x="630.5" y="21" font-size="23.5" text-anchor="start">97%</text>
</svg>
</body></html>
